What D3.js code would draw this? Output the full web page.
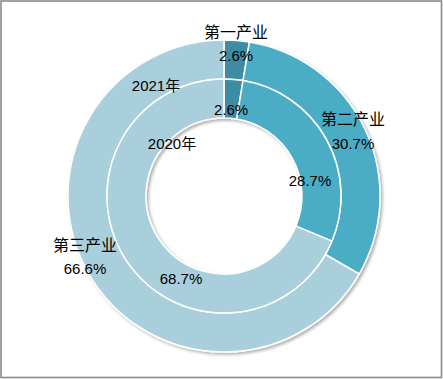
<!DOCTYPE html>
<html><head><meta charset="utf-8">
<script src="https://cdn.jsdelivr.net/npm/d3@7/dist/d3.min.js"></script>
<style>html,body{margin:0;padding:0;background:#fff;}svg{display:block;}</style>
</head><body>
<svg id="c" width="443" height="379"></svg>
<script>
const categories = ["第一产业", "第二产业", "第三产业"];
const years = ["2021年", "2020年"];
const values2021 = [2.6, 30.7, 66.6];
const values2020 = [2.6, 28.7, 68.7];
const colors = ["#3e8ca4", "#4bacc6", "#aacfdc"];

const svg = d3.select("#c");
const W = 443, H = 379;
svg.append("rect").attr("x", 1).attr("y", 1).attr("width", W - 2.5).attr("height", H - 2.5)
  .attr("fill", "#fff").attr("stroke", "#8a8a8a").attr("stroke-width", 1.6);

const defs = svg.append("defs");
const f = defs.append("filter").attr("id", "sh").attr("x", "-10%").attr("y", "-10%").attr("width", "120%").attr("height", "120%");
f.append("feDropShadow").attr("dx", 2).attr("dy", 2).attr("stdDeviation", 1.6).attr("flood-color", "#000").attr("flood-opacity", 0.3);

const cx = 224, cy = 196;
const rOuter = 156, rMid = 117, rInner = 78;
const pie = d3.pie().sort(null).value(d => d);
const color = d3.scaleOrdinal().domain(categories).range(colors);

const g = svg.append("g").attr("transform", `translate(${cx},${cy})`).attr("filter", "url(#sh)");
const rings = [
  {vals: values2021, r0: rMid, r1: rOuter},
  {vals: values2020, r0: rInner, r1: rMid}
];
rings.forEach(ring => {
  const arc = d3.arc().innerRadius(ring.r0).outerRadius(ring.r1);
  g.selectAll(null).data(pie(ring.vals)).enter().append("path")
    .attr("d", arc)
    .attr("fill", (d, i) => color(categories[i]))
    .attr("stroke", "#fff").attr("stroke-width", 1.5).attr("stroke-linejoin", "round");
});

const font = "'Liberation Sans','Noto Sans CJK SC',sans-serif";
const lbl = svg.append("g").attr("font-family", font).attr("font-size", 15).attr("fill", "#000").attr("text-anchor", "middle");
function txt(x, y, s, size) {
  lbl.append("text").attr("x", x).attr("y", y).attr("dominant-baseline", "central")
    .attr("font-size", size || 15).text(s);
}

const fmt = v => v.toFixed(1) + "%";
const outerPos = [[236, 32, 236, 55], [353, 119, 353, 143], [85, 245, 85, 268]];
categories.forEach((c, i) => {
  txt(outerPos[i][0], outerPos[i][1], c, 16);
  txt(outerPos[i][2], outerPos[i][3], fmt(values2021[i]));
});
const innerPos = [[231, 109], [310, 180], [181, 278]];
values2020.forEach((v, i) => txt(innerPos[i][0], innerPos[i][1], fmt(v)));
txt(156, 85, years[0]);
txt(172, 143, years[1]);
</script>
</body></html>
